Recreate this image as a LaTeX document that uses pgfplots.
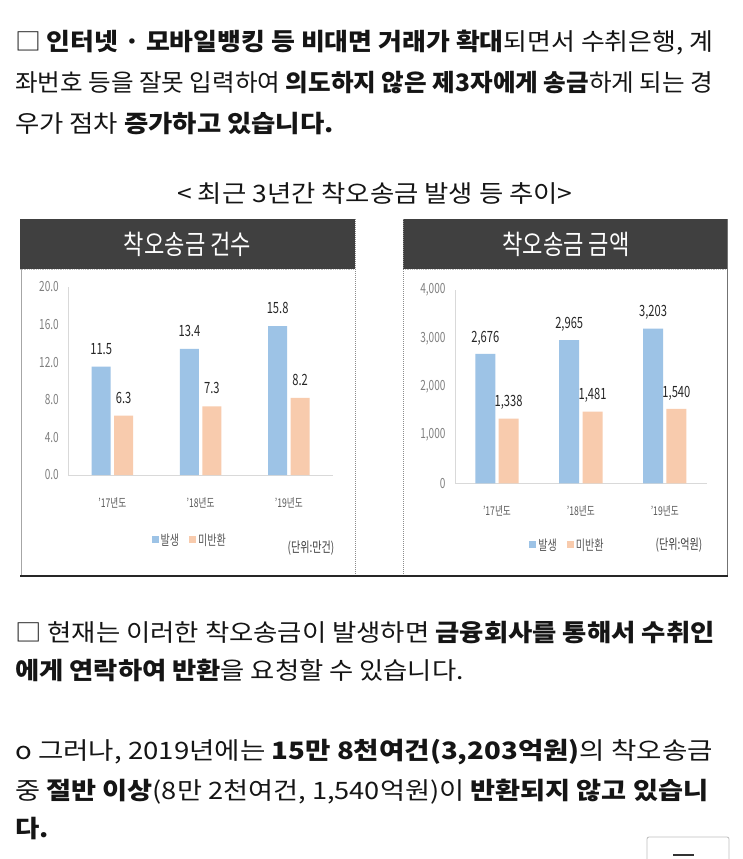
\documentclass[border=0pt]{standalone}
\usepackage{fontspec}
\setmainfont{Noto Sans CJK KR}
\usepackage{graphicx}
\usepackage{pgfplots}
\pgfplotsset{compat=1.18}
\definecolor{bblue}{HTML}{9DC3E6}
\definecolor{borange}{HTML}{F8CBAD}
\definecolor{tbar}{HTML}{404040}
\definecolor{txt}{HTML}{151515}
\definecolor{valc}{HTML}{262626}
\definecolor{tickgray}{HTML}{7F7F7F}
\definecolor{labgray}{HTML}{595959}
\newcommand{\cnd}[1]{\scalebox{0.72}[1]{#1}}
\newcommand{\ttl}[1]{\scalebox{0.82}[1]{#1}}
\newcommand{\bl}[2]{\scalebox{#1}[1]{#2}}
\newcommand{\body}{\fontsize{24}{28}\selectfont}
\begin{document}
\begin{tikzpicture}
\path[use as bounding box, fill=white] (0pt,0pt) rectangle (743pt,-859pt);
% ---------- paragraphs
\begin{scope}[every node/.style={anchor=base west, inner sep=0pt, text=txt, font=\body}]
\node at (15pt,-51pt) {\bl{1.08}{□ \textbf{인터넷 · 모바일뱅킹 등 비대면 거래가 확대}되면서 수취은행, 계}};
\node at (15pt,-92pt) {\bl{1.024}{좌번호 등을 잘못 입력하여 \textbf{의도하지 않은 제3자에게 송금}하게 되는 경}};
\node at (15pt,-132pt) {\bl{1.10}{우가 점차 \textbf{증가하고 있습니다.}}};
\node at (15pt,-641pt) {\bl{1.10}{□ 현재는 이러한 착오송금이 발생하면 \textbf{금융회사를 통해서 수취인}}};
\node at (15pt,-679pt) {\bl{1.096}{\textbf{에게 연락하여 반환}을 요청할 수 있습니다.}};
\node at (15pt,-759pt) {\bl{1.15}{o 그러나, 2019년에는 \textbf{15만 8천여건(3,203억원)}의 착오송금}};
\node at (15pt,-799pt) {\bl{1.134}{중 \textbf{절반 이상}(8만 2천여건, 1,540억원)이 \textbf{반환되지 않고 있습니}}};
\node at (15pt,-837pt) {\bl{1.10}{\textbf{다.}}};
\end{scope}
\node[anchor=base, inner sep=0pt, text=txt, font=\body] at (375pt,-202pt) {\bl{1.10}{< 최근 3년간 착오송금 발생 등 추이>}};
% ---------- chart frames
\fill[tbar] (20pt,-219pt) rectangle (355pt,-269pt);
\fill[tbar] (403pt,-219pt) rectangle (727pt,-269pt);
\draw[white!75!black, densely dotted, line width=0.8pt] (20pt,-269pt) -- (355pt,-269pt);
\draw[white!75!black, densely dotted, line width=0.8pt] (403pt,-269pt) -- (727pt,-269pt);
\draw[white!55!black, densely dotted, line width=1pt] (355pt,-219pt) -- (355pt,-576pt);
\draw[white!55!black, densely dotted, line width=1pt] (403pt,-219pt) -- (403pt,-576pt);
\draw[white!65!black, line width=0.8pt] (21pt,-269pt) -- (21pt,-576pt);
\draw[white!45!black, line width=0.8pt] (727pt,-219pt) -- (727pt,-576pt);
\draw[black!85, line width=2pt] (20pt,-576pt) -- (728pt,-576pt);
\node[text=white, font=\fontsize{27}{30}\selectfont] at (187.5pt,-244pt) {\ttl{착오송금 건수}};
\node[text=white, font=\fontsize{27}{30}\selectfont] at (566pt,-244pt) {\ttl{착오송금 금액}};
% ---------- left chart
\begin{axis}[at={(68.3pt,-475pt)}, anchor=south west, scale only axis,
  width=264.7pt, height=188.3pt,
  ybar=3.5pt, bar width=19pt,
  xmin=-0.5, xmax=2.5, ymin=0, ymax=20,
  xtick={0,1,2}, xticklabels={\cnd{'17년도},\cnd{'18년도},\cnd{'19년도}},
  ytick={0,4,8,12,16,20},
  yticklabels={\cnd{0.0},\cnd{4.0},\cnd{8.0},\cnd{12.0},\cnd{16.0},\cnd{20.0}},
  axis x line*=bottom, axis y line*=left,
  axis line style={draw=black!15, line width=0.8pt, -},
  major tick length=0pt,
  yticklabel style={font=\fontsize{14}{16}\selectfont, text=tickgray, xshift=-6pt},
  xticklabel style={font=\fontsize{12}{14}\selectfont, text=labgray, yshift=-19pt},
  /pgf/number format/assume math mode=true,
  nodes near coords={\cnd{\pgfmathprintnumber[fixed,fixed zerofill,precision=1]{\pgfplotspointmeta}}},
  every node near coord/.append style={font=\fontsize{15.5}{17}\selectfont, text=valc, anchor=center, yshift=18pt},
  legend style={draw=none, fill=none, at={(0.459,-0.345)}, anchor=center,
    legend columns=2, font=\fontsize{14}{16}\selectfont, text=labgray,
    /tikz/every even column/.append style={column sep=8pt}},
  legend image code/.code={\draw[#1,draw=none] (0pt,-3.5pt) rectangle (7pt,3.5pt);},
]
\addplot[fill=bblue, draw=none] coordinates {(0,11.5) (1,13.4) (2,15.8)};
\addplot[fill=borange, draw=none] coordinates {(0,6.3) (1,7.3) (2,8.2)};
\legend{\cnd{발생},\cnd{미반환}}
\end{axis}
\node[text=tbar, font=\fontsize{14}{16}\selectfont] at (311pt,-548pt) {\cnd{(단위:만건)}};
% ---------- right chart
\begin{axis}[at={(455pt,-483.3pt)}, anchor=south west, scale only axis,
  width=251.7pt, height=193.3pt,
  ybar=3.3pt, bar width=20pt,
  xmin=-0.5, xmax=2.5, ymin=0, ymax=4000,
  xtick={0,1,2}, xticklabels={\cnd{'17년도},\cnd{'18년도},\cnd{'19년도}},
  ytick={0,1000,2000,3000,4000},
  yticklabels={{\cnd{0}},{\cnd{1,000}},{\cnd{2,000}},{\cnd{3,000}},{\cnd{4,000}}},
  axis x line*=bottom, axis y line*=left,
  axis line style={draw=black!15, line width=0.8pt, -},
  major tick length=0pt,
  yticklabel style={font=\fontsize{14}{16}\selectfont, text=tickgray, xshift=-6pt},
  xticklabel style={font=\fontsize{12}{14}\selectfont, text=labgray, yshift=-19pt},
  /pgf/number format/assume math mode=true,
  nodes near coords={\cnd{\pgfmathprintnumber[fixed,precision=0,1000 sep={,}]{\pgfplotspointmeta}}},
  every node near coord/.append style={font=\fontsize{15.5}{17}\selectfont, text=valc, anchor=center, yshift=16pt},
  legend style={draw=none, fill=none, at={(0.447,-0.319)}, anchor=center,
    legend columns=2, font=\fontsize{14}{16}\selectfont, text=labgray,
    /tikz/every even column/.append style={column sep=8pt}},
  legend image code/.code={\draw[#1,draw=none] (0pt,-3.5pt) rectangle (7pt,3.5pt);},
]
\addplot[fill=bblue, draw=none] coordinates {(0,2676) (1,2965) (2,3203)};
\addplot[fill=borange, draw=none] coordinates {(0,1338) (1,1481) (2,1540)};
\legend{\cnd{발생},\cnd{미반환}}
\end{axis}
\node[text=tbar, font=\fontsize{14}{16}\selectfont] at (679pt,-545pt) {\cnd{(단위:억원)}};
% ---------- bottom-right button
\draw[black!25, line width=0.8pt, rounded corners=2pt] (647pt,-837pt) rectangle (729pt,-875pt);
\draw[black!80, line width=1.5pt] (673pt,-855pt) -- (694pt,-855pt);
\end{tikzpicture}
\end{document}
